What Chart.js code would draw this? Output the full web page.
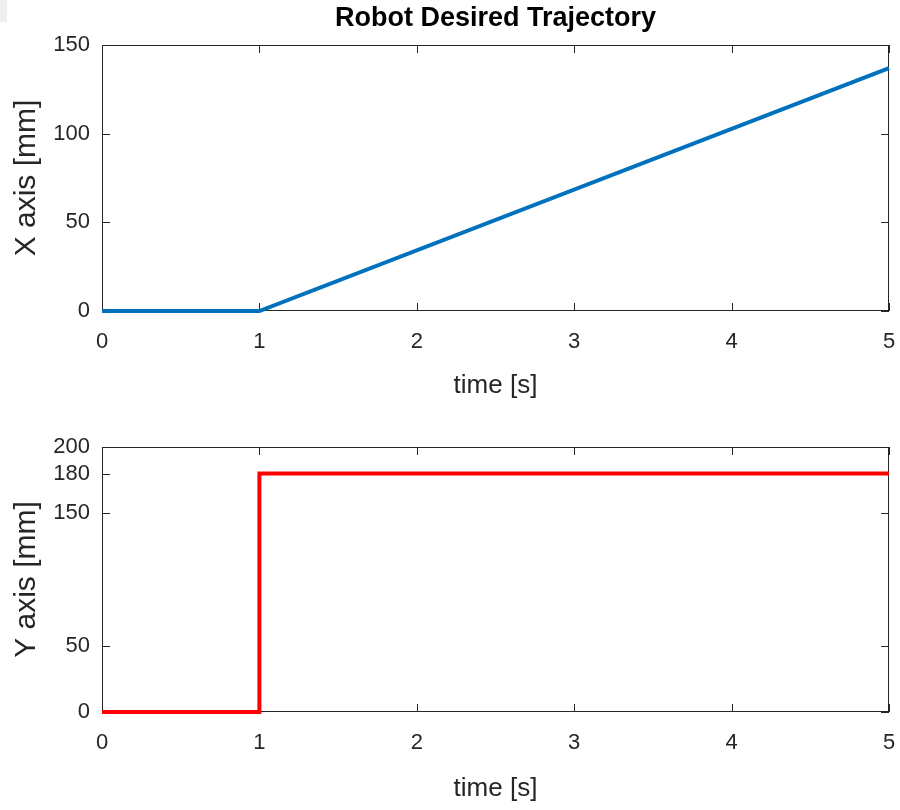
<!DOCTYPE html>
<html>
<head>
<meta charset="utf-8">
<script src="https://cdn.jsdelivr.net/npm/chart.js@4.4.0/dist/chart.umd.min.js"></script>
<style>
  body { margin: 0; background: #fff; }
  #wrap { position: relative; width: 900px; height: 810px; }
  canvas { position: absolute; left: 0; }
  #corner { position: absolute; left: 0; top: 0; width: 7px; height: 22px; background: #eeeeee; }
</style>
</head>
<body>
<div id="wrap">
  <canvas id="topChart" width="900" height="405" style="top:0"></canvas>
  <canvas id="bottomChart" width="900" height="405" style="top:405px"></canvas>
  <div id="corner"></div>
</div>
<script>
// data
const timeX = [0, 1, 5];
const posX = [0, 0, 137];
const timeY = [0, 1, 1, 5];
const posY = [0, 0, 180, 180];
const timeTicks = [0, 1, 2, 3, 4, 5];
const xAxisTicks = [0, 50, 100, 150];
const yAxisTicks = [0, 50, 150, 180, 200];

const FONT = 'Liberation Sans, Arial, Helvetica, sans-serif';
const AXIS_COLOR = '#262626';

// MATLAB style box with inward ticks on all four sides
const boxPlugin = {
    id: 'box',
    beforeDatasetsDraw(chart) {
        const { ctx, chartArea: a, scales } = chart;
        const len = 8;
        ctx.save();
        ctx.strokeStyle = AXIS_COLOR;
        ctx.lineWidth = 1;
        ctx.strokeRect(a.left + 0.5, a.top + 0.5, a.right - a.left - 1, a.bottom - a.top - 1);
        ctx.beginPath();
        scales.x.ticks.forEach(t => {
            const px = Math.round(scales.x.getPixelForValue(t.value)) + 0.5;
            ctx.moveTo(px, a.bottom); ctx.lineTo(px, a.bottom - len);
            ctx.moveTo(px, a.top); ctx.lineTo(px, a.top + len);
        });
        scales.y.ticks.forEach(t => {
            const py = Math.round(scales.y.getPixelForValue(t.value)) + 0.5;
            ctx.moveTo(a.left, py); ctx.lineTo(a.left + len, py);
            ctx.moveTo(a.right, py); ctx.lineTo(a.right - len, py);
        });
        ctx.stroke();
        ctx.restore();
    }
};

// title centred over the plot area
const titlePlugin = {
    id: 'plotTitle',
    afterDraw(chart, args, opts) {
        if (!opts.text) return;
        const { ctx, chartArea: a } = chart;
        ctx.save();
        ctx.fillStyle = '#000';
        ctx.font = 'bold 27px ' + FONT;
        ctx.textAlign = 'center';
        ctx.textBaseline = 'middle';
        ctx.fillText(opts.text, (a.left + a.right) / 2, 19);
        ctx.restore();
    }
};

function makeChart(id, times, values, color, yTicks, yLabel, title, topPad, xHeight, xTitlePad) {
    const ctx = document.getElementById(id).getContext('2d');
    return new Chart(ctx, {
        type: 'line',
        data: {
            datasets: [{
                data: times.map((t, i) => ({ x: t, y: values[i] })),
                borderColor: color,
                borderWidth: 4,
                pointRadius: 0,
                tension: 0,
                fill: false,
                clip: false
            }]
        },
        options: {
            responsive: false,
            animation: false,
            layout: { padding: { top: topPad, right: 11, left: 0, bottom: 0 } },
            plugins: {
                legend: { display: false },
                tooltip: { enabled: false },
                plotTitle: { text: title }
            },
            scales: {
                x: {
                    type: 'linear',
                    min: timeTicks[0],
                    max: timeTicks[timeTicks.length - 1],
                    afterBuildTicks: s => { s.ticks = timeTicks.map(v => ({ value: v })); },
                    afterFit: s => { s.height = xHeight; s.paddingLeft = 0; s.paddingRight = 0; },
                    grid: { display: false, drawTicks: false },
                    border: { display: false },
                    ticks: { color: AXIS_COLOR, font: { family: FONT, size: 22 }, padding: 18, maxRotation: 0 },
                    title: { display: true, text: 'time [s]', color: AXIS_COLOR,
                        font: { family: FONT, size: 26 }, padding: { top: 0, bottom: xTitlePad } }
                },
                y: {
                    type: 'linear',
                    min: yTicks[0],
                    max: yTicks[yTicks.length - 1],
                    afterBuildTicks: s => { s.ticks = yTicks.map(v => ({ value: v })); },
                    afterFit: s => { s.width = 102; },
                    grid: { display: false, drawTicks: false },
                    border: { display: false },
                    ticks: { color: AXIS_COLOR, font: { family: FONT, size: 22 }, padding: 12 },
                    title: { display: true, text: yLabel, color: AXIS_COLOR,
                        font: { family: FONT, size: 30 }, padding: { top: 9, bottom: 0 } }
                }
            }
        },
        plugins: [boxPlugin, titlePlugin]
    });
}

makeChart('topChart', timeX, posX, '#0072BD', xAxisTicks, 'X axis [mm]', 'Robot Desired Trajectory', 45, 94, 4);
makeChart('bottomChart', timeY, posY, '#FF0000', yAxisTicks, 'Y axis [mm]', '', 42, 98, 6);
</script>
</body>
</html>
